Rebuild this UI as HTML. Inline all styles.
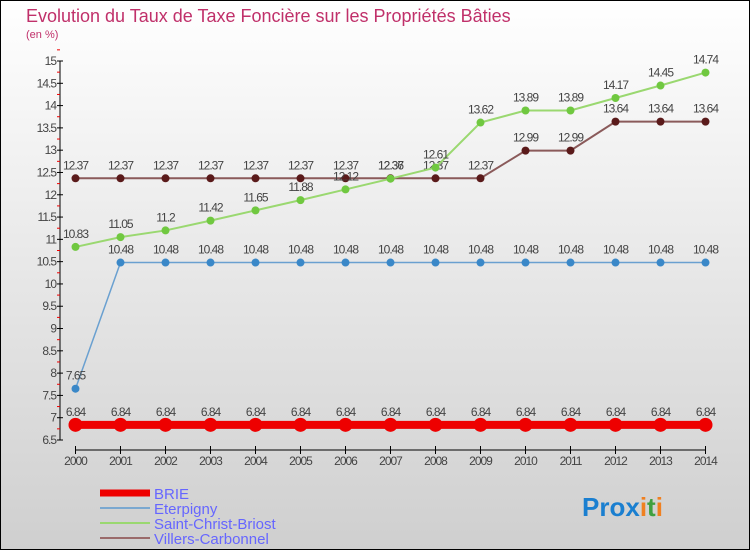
<!DOCTYPE html>
<html><head><meta charset="utf-8"><style>
body{margin:0}
#c{width:750px;height:550px;position:relative;font-family:"Liberation Sans",sans-serif}
</style></head><body>
<div id="c">
<svg width="750" height="550">
<defs><linearGradient id="bg" x1="0" y1="0" x2="0" y2="1"><stop offset="0" stop-color="#ffffff"/><stop offset="1" stop-color="#cfcfcf"/></linearGradient></defs>
<rect x="0.5" y="0.5" width="749" height="549" fill="url(#bg)" stroke="#000"/>
<text x="26" y="22" font-size="18" fill="#c0306a">Evolution du Taux de Taxe Foncière sur les Propriétés Bâties</text>
<text x="26" y="38" font-size="11" fill="#c0306a">(en %)</text>
<g id="axes"></g><g id="series"></g>
<g>
<line x1="100" y1="493" x2="150" y2="493" stroke="#e00" stroke-width="7"/>
<text x="154" y="499" font-size="15" fill="#6666ff">BRIE</text>
<line x1="100" y1="508" x2="150" y2="508" stroke="#7aa8d0" stroke-width="2"/>
<text x="154" y="514" font-size="15" fill="#6666ff">Eterpigny</text>
<line x1="100" y1="523" x2="150" y2="523" stroke="#9ad870" stroke-width="2"/>
<text x="154" y="529" font-size="15" fill="#6666ff">Saint-Christ-Briost</text>
<line x1="100" y1="538" x2="150" y2="538" stroke="#9a6a6a" stroke-width="2"/>
<text x="154" y="544" font-size="15" fill="#6666ff">Villers-Carbonnel</text>
</g>
<text x="582" y="516" font-size="26" font-weight="bold"><tspan fill="#1a7fd0">Pro</tspan><tspan fill="#1a7fd0">x</tspan><tspan fill="#f08020">i</tspan><tspan fill="#40a040">t</tspan><tspan fill="#f08020">i</tspan></text>
</svg></div>
<script>
const years=[2000,2001,2002,2003,2004,2005,2006,2007,2008,2009,2010,2011,2012,2013,2014];
const brie=[6.84,6.84,6.84,6.84,6.84,6.84,6.84,6.84,6.84,6.84,6.84,6.84,6.84,6.84,6.84];
const eterpigny=[7.65,10.48,10.48,10.48,10.48,10.48,10.48,10.48,10.48,10.48,10.48,10.48,10.48,10.48,10.48];
const saintChrist=[10.83,11.05,11.2,11.42,11.65,11.88,12.12,12.36,12.61,13.62,13.89,13.89,14.17,14.45,14.74];
const villers=[12.37,12.37,12.37,12.37,12.37,12.37,12.37,12.37,12.37,12.37,12.99,12.99,13.64,13.64,13.64];
const yTicks=[6.5,7,7.5,8,8.5,9,9.5,10,10.5,11,11.5,12,12.5,13,13.5,14,14.5,15];
const NS="http://www.w3.org/2000/svg";
const X=i=>75.5+i*45;
const Y=v=>440-(v-6.5)*(379/8.5);
function mk(t,a,p){const e=document.createElementNS(NS,t);for(const k in a)e.setAttribute(k,a[k]);p.appendChild(e);return e;}
const ax=document.getElementById('axes');
let l=mk('line',{x1:60,y1:Y(15),x2:60,y2:440,stroke:'#000'},ax);


yTicks.forEach(v=>{
 mk('line',{x1:57,y1:Y(v),x2:63,y2:Y(v),stroke:'#000'},ax);
 mk('line',{x1:57,y1:Y(v+0.25),x2:60,y2:Y(v+0.25),stroke:'#e00'},ax);
 const t=mk('text',{x:56,y:Y(v)+4,'font-size':12,'text-anchor':'end',fill:'#444','letter-spacing':'-1'},ax);
 t.textContent=v;
 
 
});
l=mk('line',{x1:X(0),y1:450,x2:X(14),y2:450,stroke:'#000'},ax);


years.forEach((y,i)=>{
 mk('line',{x1:X(i),y1:446,x2:X(i),y2:454,stroke:'#000'},ax);
 const t=mk('text',{x:X(i),y:465,'font-size':12,'text-anchor':'middle',fill:'#444','letter-spacing':'-1'},ax);
 t.textContent=y;
 
 
});
const sg=document.getElementById('series');
function series(vals,name,color,dot,w,r){
 const g=mk('g',{},sg);
 
 
 mk('polyline',{points:vals.map((v,i)=>X(i)+','+Y(v)).join(' '),fill:'none',stroke:color,'stroke-width':w},g);
 vals.forEach((v,i)=>{
  const c=mk('circle',{cx:X(i),cy:Y(v),r:r,fill:dot},g);
  
  
  const t=mk('text',{x:X(i),y:Y(v)-9,'font-size':12,'text-anchor':'middle',fill:'#444','letter-spacing':'-1'},g);
  t.textContent=v;
  
  
 });
}
series(villers,'villers-carbonnel','#8a5a5a','#5a1a1a',2,4);
series(saintChrist,'saint-christ-briost','#9ad870','#70c840',2,4);
series(eterpigny,'eterpigny','#6aa0d0','#3a88c8',1.5,4);
series(brie,'brie','#e00','#e00',8,7);
</script>
</body></html>
